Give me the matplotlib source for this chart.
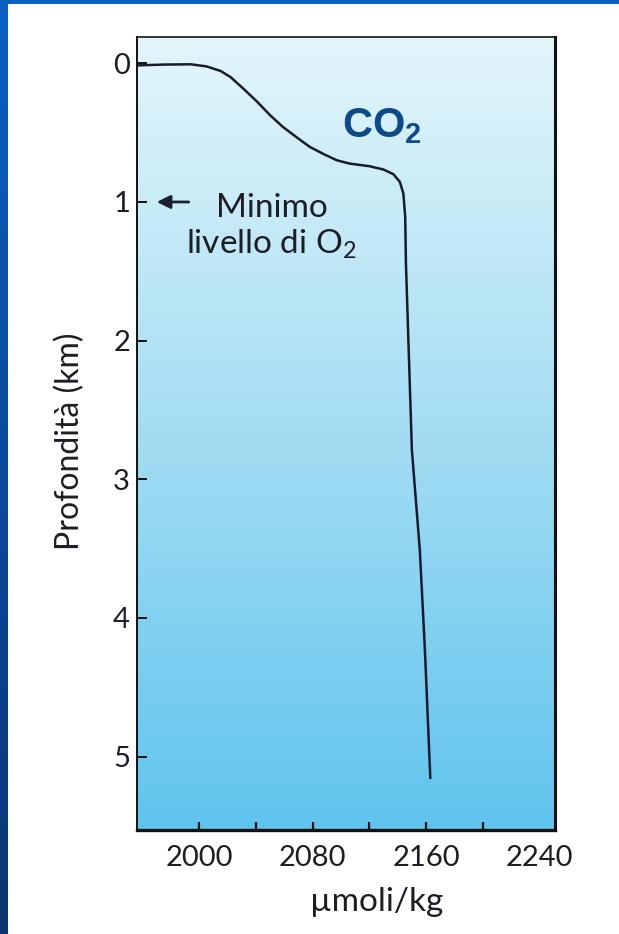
import numpy as np
import matplotlib
matplotlib.use("Agg")
import matplotlib.pyplot as plt
from matplotlib import font_manager
from matplotlib.colors import LinearSegmentedColormap
from matplotlib.patches import Rectangle
from matplotlib.ticker import FixedLocator

# CO2 profile (umol/kg against depth in km)
co2 = [1956, 1975, 1994, 2005, 2015, 2022, 2031, 2041, 2050, 2059, 2069, 2078, 2088,
       2097, 2106, 2120, 2130, 2137, 2141.5, 2144, 2145.3, 2145.8, 2150, 2155.6, 2159.2, 2163]
depth = [0.015, 0.009, 0.007, 0.022, 0.055, 0.099, 0.182, 0.279, 0.375, 0.459, 0.536, 0.603, 0.656,
         0.699, 0.723, 0.742, 0.766, 0.800, 0.855, 0.939, 1.108, 1.441, 2.789, 3.510, 4.231, 5.153]

x_ticks = [2000, 2080, 2160, 2240]
x_minor = [2040, 2120, 2200]
y_ticks = [0, 1, 2, 3, 4, 5]

# Arial-like bold face for the CO2 label, narrow one if installed
fonts = font_manager.fontManager.ttflist
if any(f.name == 'Liberation Sans Narrow' for f in fonts):
    co2_font = dict(family='Liberation Sans Narrow', fontweight='bold', fontsize=32)
else:
    co2_font = dict(family='Liberation Sans', fontweight='bold', fontsize=30)

plt.rcParams['font.family'] = ['Lato', 'DejaVu Sans']

ink = '#1d1d26'

fig = plt.figure(figsize=(6.19, 9.34), dpi=100, facecolor='white')

# blue slide border on the top and left
bg = fig.add_axes([0, 0, 1, 1], zorder=-10)
bg.axis('off')
bg.set_xlim(0, 1)
bg.set_ylim(0, 1)
slide = LinearSegmentedColormap.from_list('slide', ['#0b60c4', '#0a4a9c', '#0a3570'])
bg.imshow(np.linspace(0, 1, 256).reshape(-1, 1), extent=[0, 8 / 619, 0, 1],
          aspect='auto', cmap=slide)
bg.add_patch(Rectangle((0, 1 - 4 / 934), 1, 4 / 934, color='#0b60c4', lw=0))

ax = fig.add_axes([0.2213, 0.1113, 0.6753, 0.8491])

# water gradient behind the plot
water = LinearSegmentedColormap.from_list('water', ['#e3f6fb', '#a4ddf3', '#5fc4ee'])
ax.imshow(np.linspace(0, 1, 256).reshape(-1, 1), extent=[0, 1, 0, 1], transform=ax.transAxes,
          aspect='auto', cmap=water, zorder=0)

ax.plot(co2, depth, color='#161a2e', lw=1.8, zorder=3)

ax.set_xlim(1956, 2251)
ax.set_ylim(5.53, -0.19)

ax.set_yticks(y_ticks)
ax.set_xticks(x_ticks)
ax.xaxis.set_minor_locator(FixedLocator(x_minor))
ax.tick_params(axis='y', direction='in', length=7, width=1.4, pad=5, labelsize=21,
               labelcolor=ink, color='#111111')
ax.tick_params(axis='x', which='both', direction='in', length=6, width=1.6, pad=11,
               labelsize=21, labelcolor=ink, color='#111111')
ax.xaxis.get_major_ticks()[-1].tick1line.set_visible(False)

for side, lw in [('left', 1.4), ('top', 1.2), ('right', 2.2), ('bottom', 2.4)]:
    ax.spines[side].set_linewidth(lw)
    ax.spines[side].set_color('#111111')
    ax.spines[side].set_zorder(4)

ax.set_ylabel('Profondità (km)', fontsize=23, color=ink)
ax.yaxis.set_label_coords(-0.125, 0.49)
ax.set_xlabel('µmoli/kg', fontsize=24, color=ink)
ax.xaxis.set_label_coords(0.574, -0.072)

ax.text(2051, 1.11, 'Minimo', ha='center', va='baseline', fontsize=24, color=ink)
ax.text(2051, 1.369, r'livello di O$_\mathregular{2}$', ha='center', va='baseline',
        fontsize=24, color=ink)
ax.annotate('', xy=(1970, 1.0), xytext=(1992.5, 1.0),
            arrowprops=dict(arrowstyle='-|>', color='#1c1f33', lw=2,
                            mutation_scale=20, shrinkA=0, shrinkB=0))

ax.text(2101, 0.53, r'CO$_\mathregular{2}$', ha='left', va='baseline',
        color='#0d4a8a', **co2_font)

fig.savefig('out.png', dpi=100)
